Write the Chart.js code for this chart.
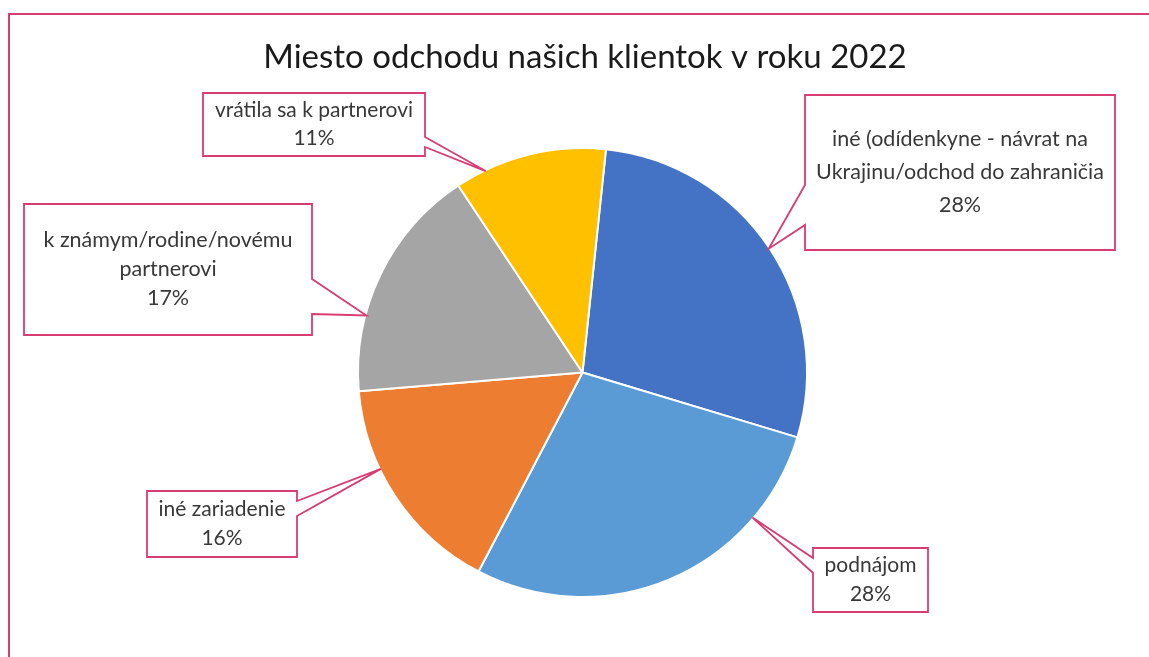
<!DOCTYPE html>
<html>
<head>
<meta charset="utf-8">
<script src="https://cdn.jsdelivr.net/npm/chart.js@4.4.0/dist/chart.umd.min.js"></script>
<style>
  html, body { margin: 0; padding: 0; background: #ffffff; }
  #wrap { width: 1149px; height: 657px; position: relative; }
</style>
</head>
<body>
<div id="wrap"><canvas id="c" width="1149" height="657"></canvas></div>
<script>
// ---- data ----
const chartTitle = "Miesto odchodu našich klientok v roku 2022";
const categories = [
  "iné (odídenkyne - návrat na Ukrajinu/odchod do zahraničia",
  "podnájom",
  "iné zariadenie",
  "k známym/rodine/novému partnerovi",
  "vrátila sa k partnerovi"
];
const labelLines = [
  ["iné (odídenkyne - návrat na", "Ukrajinu/odchod do zahraničia"],
  ["podnájom"],
  ["iné zariadenie"],
  ["k známym/rodine/novému", "partnerovi"],
  ["vrátila sa k partnerovi"]
];
const values = [28, 28, 16, 17, 11];
const sliceColors = ["#4472C4", "#5B9BD5", "#ED7D31", "#A5A5A5", "#FFC000"];

// ---- callout layout (box rectangles, wedge side, anchor fraction within slice) ----
const calloutBoxes = [
  { x0: 805, y0: 95,  x1: 1115, y1: 250, side: "left",  wy0: 185, wy1: 225, frac: 0.50, lh: 33, fs: 21.5 },
  { x0: 813, y0: 548, x1: 928,  y1: 612, side: "left",  wy0: 558, wy1: 573, frac: 0.235, lh: 29, fs: 21 },
  { x0: 147, y0: 491, x1: 297,  y1: 557, side: "right", wy0: 501, wy1: 516, frac: 0.64, lh: 29, fs: 21 },
  { x0: 24,  y0: 204, x1: 312,  y1: 335, side: "right", wy0: 279, wy1: 314, frac: 0.32, lh: 29, fs: 21.5 },
  { x0: 203, y0: 93,  x1: 425,  y1: 156, side: "right", wy0: 137, wy1: 147, frac: 0.20, lh: 28, fs: 21 }
];
const PINK = "#D83C70";
const FONT = "Lato, 'Open Sans', sans-serif";

const decorPlugin = {
  id: "decor",
  beforeDraw(chart) {
    const ctx = chart.ctx;
    ctx.save();
    ctx.fillStyle = "#ffffff";
    ctx.fillRect(0, 0, chart.width, chart.height);
    ctx.strokeStyle = PINK;
    ctx.lineWidth = 2;
    ctx.strokeRect(9, 14, 1300, 800);
    // title
    ctx.fillStyle = "#1a1a1a";
    ctx.font = "33px " + FONT;
    ctx.textAlign = "center";
    ctx.textBaseline = "middle";
    ctx.fillText(chartTitle, 585, 57);
    ctx.restore();
  },
  afterDraw(chart) {
    const ctx = chart.ctx;
    const meta = chart.getDatasetMeta(0);
    const total = values.reduce((a, b) => a + b, 0);
    meta.data.forEach((arc, i) => {
      const b = calloutBoxes[i];
      const p = arc.getProps(["x", "y", "startAngle", "endAngle", "outerRadius"], true);
      const a = p.startAngle + (p.endAngle - p.startAngle) * b.frac;
      const tx = p.x + Math.cos(a) * (p.outerRadius - 1);
      const ty = p.y + Math.sin(a) * (p.outerRadius - 1);
      ctx.save();
      ctx.beginPath();
      if (b.side === "right") {
        ctx.moveTo(b.x0, b.y0);
        ctx.lineTo(b.x1, b.y0);
        ctx.lineTo(b.x1, b.wy0);
        ctx.lineTo(tx, ty);
        ctx.lineTo(b.x1, b.wy1);
        ctx.lineTo(b.x1, b.y1);
        ctx.lineTo(b.x0, b.y1);
      } else {
        ctx.moveTo(b.x0, b.y0);
        ctx.lineTo(b.x1, b.y0);
        ctx.lineTo(b.x1, b.y1);
        ctx.lineTo(b.x0, b.y1);
        ctx.lineTo(b.x0, b.wy1);
        ctx.lineTo(tx, ty);
        ctx.lineTo(b.x0, b.wy0);
      }
      ctx.closePath();
      ctx.fillStyle = "#ffffff";
      ctx.fill();
      ctx.strokeStyle = PINK;
      ctx.lineWidth = 1.8;
      ctx.stroke();
      // text
      const pct = Math.round(values[i] / total * 100) + "%";
      const lines = labelLines[i].concat([pct]);
      ctx.fillStyle = "#383838";
      ctx.font = b.fs + "px " + FONT;
      ctx.textAlign = "center";
      ctx.textBaseline = "middle";
      const cx = (b.x0 + b.x1) / 2;
      const cy = (b.y0 + b.y1) / 2;
      const startY = cy - (lines.length - 1) * b.lh / 2;
      lines.forEach((ln, k) => ctx.fillText(ln, cx, startY + k * b.lh));
      ctx.restore();
    });
  }
};

new Chart(document.getElementById("c"), {
  type: "pie",
  data: {
    labels: categories,
    datasets: [{
      data: values,
      backgroundColor: sliceColors,
      borderColor: "#ffffff",
      borderWidth: 2
    }]
  },
  options: {
    responsive: false,
    animation: false,
    rotation: 6,
    layout: { padding: { top: 147, bottom: 59, left: 200, right: 184 } },
    plugins: {
      legend: { display: false },
      title: { display: false },
      tooltip: { enabled: false }
    }
  },
  plugins: [decorPlugin]
});
</script>
</body>
</html>
